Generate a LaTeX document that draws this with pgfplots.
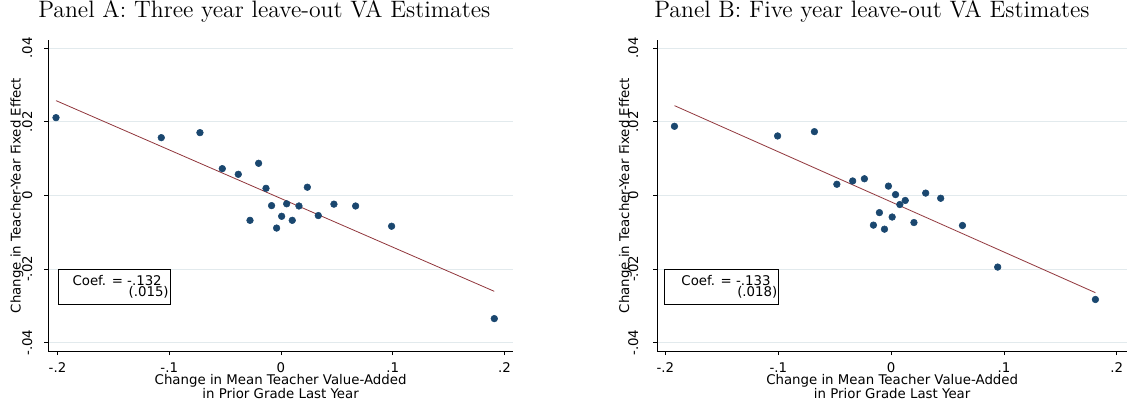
\documentclass[border=0pt]{standalone}
\usepackage{pgfplots}
\pgfplotsset{compat=1.18}
\usepackage{fontspec}
\newfontfamily\dejavu{DejaVu Sans}
\newfontfamily\titlefont{lmroman12-regular.otf}
\definecolor{stnavy}{RGB}{26,71,111}
\definecolor{stmaroon}{RGB}{144,53,59}
\definecolor{stgrid}{RGB}{226,234,237}
\begin{document}
\begin{tikzpicture}
\path[use as bounding box] (0,0) rectangle (845.25pt,305.25pt);
\pgfplotsset{panel/.style={
  scale only axis, height=233.25pt, ymin=-0.0423, ymax=0.0422,
  axis x line*=bottom, axis y line*=left,
  axis line style={black, line width=0.6pt, -},
  tick align=outside, major tick length=3pt,
  tick style={black, line width=0.6pt},
  scaled x ticks=false, scaled y ticks=false,
  ytick={-0.04,-0.02,0,0.02,0.04}, yticklabels={-.04,-.02,0,.02,.04},
  xtick={-0.2,-0.1,0,0.1,0.2}, xticklabels={-.2,-.1,0,.1,.2},
  ymajorgrids, grid style={stgrid, line width=0.6pt},
  tick label style={font=\dejavu\fontsize{10}{12}\selectfont},
  /pgf/number format/assume math mode=true,
  yticklabel style={rotate=90, anchor=base, inner sep=0pt},
  xticklabel style={anchor=base, inner sep=0pt},
  xticklabel shift=12.75pt,
  xlabel={Change in Mean Teacher Value-Added\\in Prior Grade Last Year},
  xlabel style={align=center, font=\dejavu\fontsize{10}{10.5}\selectfont, at={(axis description cs:0.5,0)}, anchor=north, yshift=-17.5pt, inner sep=0pt},
  ylabel={Change in Teacher-Year Fixed Effect},
  clip=false,
}}
% Panel A
\begin{axis}[panel, at={(36.225pt,42pt)}, anchor=south west, width=348.5pt, xmin=-0.2082, xmax=0.2076,
  yticklabel shift=9.2pt,
  ylabel style={font=\dejavu\fontsize{10}{12}\selectfont, at={(axis description cs:-0.0594,0.5)}, anchor=base, inner sep=0pt}]
\addplot[only marks, mark=*, mark size=2.5pt, color=stnavy] coordinates {
(-0.2013,0.0211) (-0.1071,0.01567) (-0.0725,0.01703) (-0.0525,0.00725) (-0.0382,0.00571)
(-0.0277,-0.0068) (-0.0200,0.0087) (-0.0134,0.0019) (-0.0084,-0.0028) (-0.0039,-0.0089)
(0.0006,-0.0057) (0.0051,-0.0023) (0.0101,-0.0068) (0.0161,-0.0029) (0.0236,0.0022)
(0.0334,-0.0055) (0.0474,-0.0024) (0.0668,-0.0029) (0.0990,-0.0084) (0.1909,-0.0335)};
\addplot[stmaroon, line width=0.6pt, no marks] coordinates {(-0.2013,0.02573) (0.1909,-0.02609)};
\draw[black, line width=0.6pt] (rel axis cs:0.0209,0.1502) rectangle (rel axis cs:0.2634,0.2627);
\node[anchor=base east, inner sep=0pt, font=\dejavu\fontsize{10}{12}\selectfont] at (rel axis cs:0.2447,0.2115) {Coef. = -.132};
\node[anchor=base east, inner sep=0pt, font=\dejavu\fontsize{10}{12}\selectfont] at (rel axis cs:0.2597,0.1745) {(.015)};
\end{axis}
% Panel B
\begin{axis}[panel, at={(492.975pt,42pt)}, anchor=south west, width=352.275pt, xmin=-0.2072, xmax=0.2090,
  yticklabel shift=11.3pt,
  ylabel style={font=\dejavu\fontsize{10}{12}\selectfont, at={(axis description cs:-0.0602,0.5)}, anchor=base, inner sep=0pt}]
\addplot[only marks, mark=*, mark size=2.5pt, color=stnavy] coordinates {
(-0.1920,0.01875) (-0.1006,0.01613) (-0.0680,0.0173) (-0.0481,0.0030) (-0.0341,0.0039)
(-0.0237,0.0045) (-0.0157,-0.0081) (-0.0104,-0.0047) (-0.0059,-0.0092) (-0.0024,0.0025)
(0.0009,-0.0059) (0.0039,0.0002) (0.0077,-0.0025) (0.0125,-0.0014) (0.0202,-0.0074)
(0.0306,0.0006) (0.0439,-0.0008) (0.0632,-0.0082) (0.0944,-0.0195) (0.1810,-0.0283)};
\addplot[stmaroon, line width=0.6pt, no marks] coordinates {(-0.1920,0.02437) (0.1810,-0.02645)};
\draw[black, line width=0.6pt] (rel axis cs:0.0158,0.1502) rectangle (rel axis cs:0.257,0.2627);
\node[anchor=base east, inner sep=0pt, font=\dejavu\fontsize{10}{12}\selectfont] at (rel axis cs:0.2419,0.2115) {Coef. = -.133};
\node[anchor=base east, inner sep=0pt, font=\dejavu\fontsize{10}{12}\selectfont] at (rel axis cs:0.2562,0.1745) {(.018)};
\end{axis}
\node[anchor=base west, inner sep=0pt, font=\titlefont\fontsize{17.8}{21}\selectfont] at (28.5pt,292.3pt) {Panel A: Three year leave-out VA Estimates};
\node[anchor=base west, inner sep=0pt, font=\titlefont\fontsize{17.8}{21}\selectfont] at (490.5pt,292.3pt) {Panel B: Five year leave-out VA Estimates};
\end{tikzpicture}
\end{document}
